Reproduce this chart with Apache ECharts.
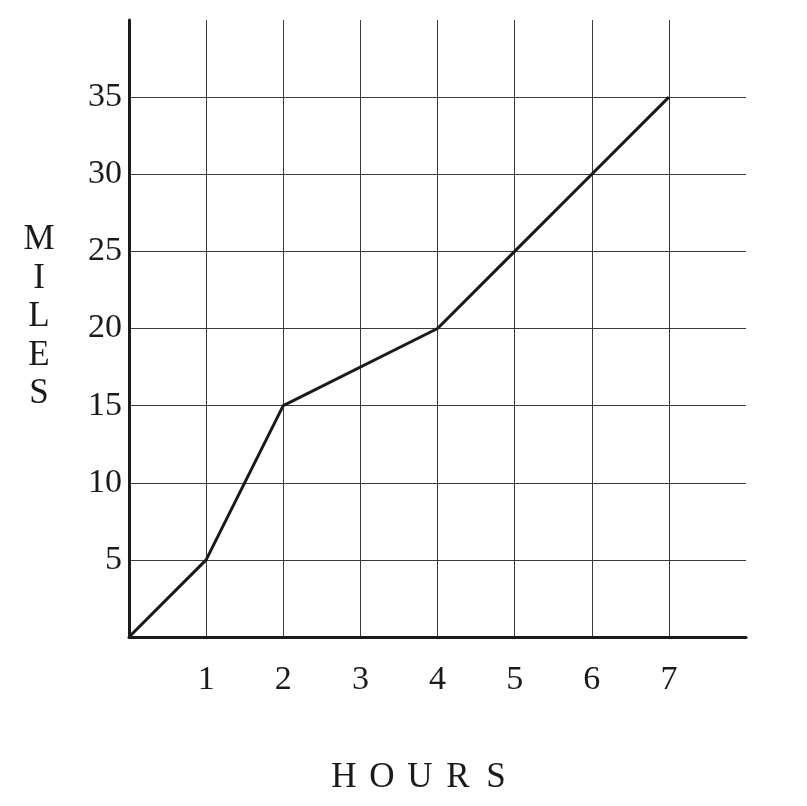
<!DOCTYPE html>
<html><head><meta charset="utf-8">
<script src="https://cdn.jsdelivr.net/npm/echarts@6/dist/echarts.min.js"></script>
<style>html,body{margin:0;padding:0;background:#fff}#c{width:807px;height:806px}</style>
</head><body><div id="c"></div>
<script>
const hours = [0, 1, 2, 4, 5, 6, 7];
const miles = [0, 5, 15, 20, 25, 30, 35];
const xTicks = [1, 2, 3, 4, 5, 6, 7];
const yTicks = [5, 10, 15, 20, 25, 30, 35];
const xTitle = ['H', 'O', 'U', 'R', 'S'];
const yTitle = ['M', 'I', 'L', 'E', 'S'];

const font = '"Liberation Serif", "DejaVu Serif", serif';
const titleFont = '35px ' + font;
const graphics = [];
xTitle.forEach((ch, i) => graphics.push({
  type: 'text', x: 344 + i * 38, y: 778,
  style: { text: ch, font: titleFont, fill: '#1a1a1a', align: 'center', verticalAlign: 'middle' }
}));
yTitle.forEach((ch, i) => graphics.push({
  type: 'text', x: 39, y: 240 + i * 38.5,
  style: { text: ch, font: titleFont, fill: '#1a1a1a', align: 'center', verticalAlign: 'middle' }
}));

const chart = echarts.init(document.getElementById('c'));
chart.setOption({
  animation: false,
  grid: { left: 129, top: 20, width: 617, height: 617, containLabel: false },
  xAxis: {
    type: 'value', min: 0, max: 8, interval: 1,
    axisLine: { show: true, onZero: false, lineStyle: { color: '#1a1a1a', width: 3 } },
    axisTick: { show: false },
    axisLabel: {
      margin: 26, fontFamily: font, fontSize: 34, color: '#1a1a1a',
      formatter: v => xTicks.includes(v) ? String(v) : ''
    },
    splitLine: { show: true, showMinLine: false, showMaxLine: false, lineStyle: { color: '#3a3a3a', width: 1 } }
  },
  yAxis: {
    type: 'value', min: 0, max: 40, interval: 5,
    axisLine: { show: true, onZero: false, lineStyle: { color: '#1a1a1a', width: 3 } },
    axisTick: { show: false },
    axisLabel: {
      margin: 7, fontFamily: font, fontSize: 34, color: '#1a1a1a',
      formatter: v => yTicks.includes(v) ? String(v) : ''
    },
    splitLine: { show: true, showMinLine: false, showMaxLine: false, lineStyle: { color: '#3a3a3a', width: 1 } }
  },
  graphic: graphics,
  series: [{
    type: 'line',
    data: hours.map((h, i) => [h, miles[i]]),
    showSymbol: false,
    lineStyle: { color: '#1a1a1a', width: 3 }
  }]
});
</script></body></html>
